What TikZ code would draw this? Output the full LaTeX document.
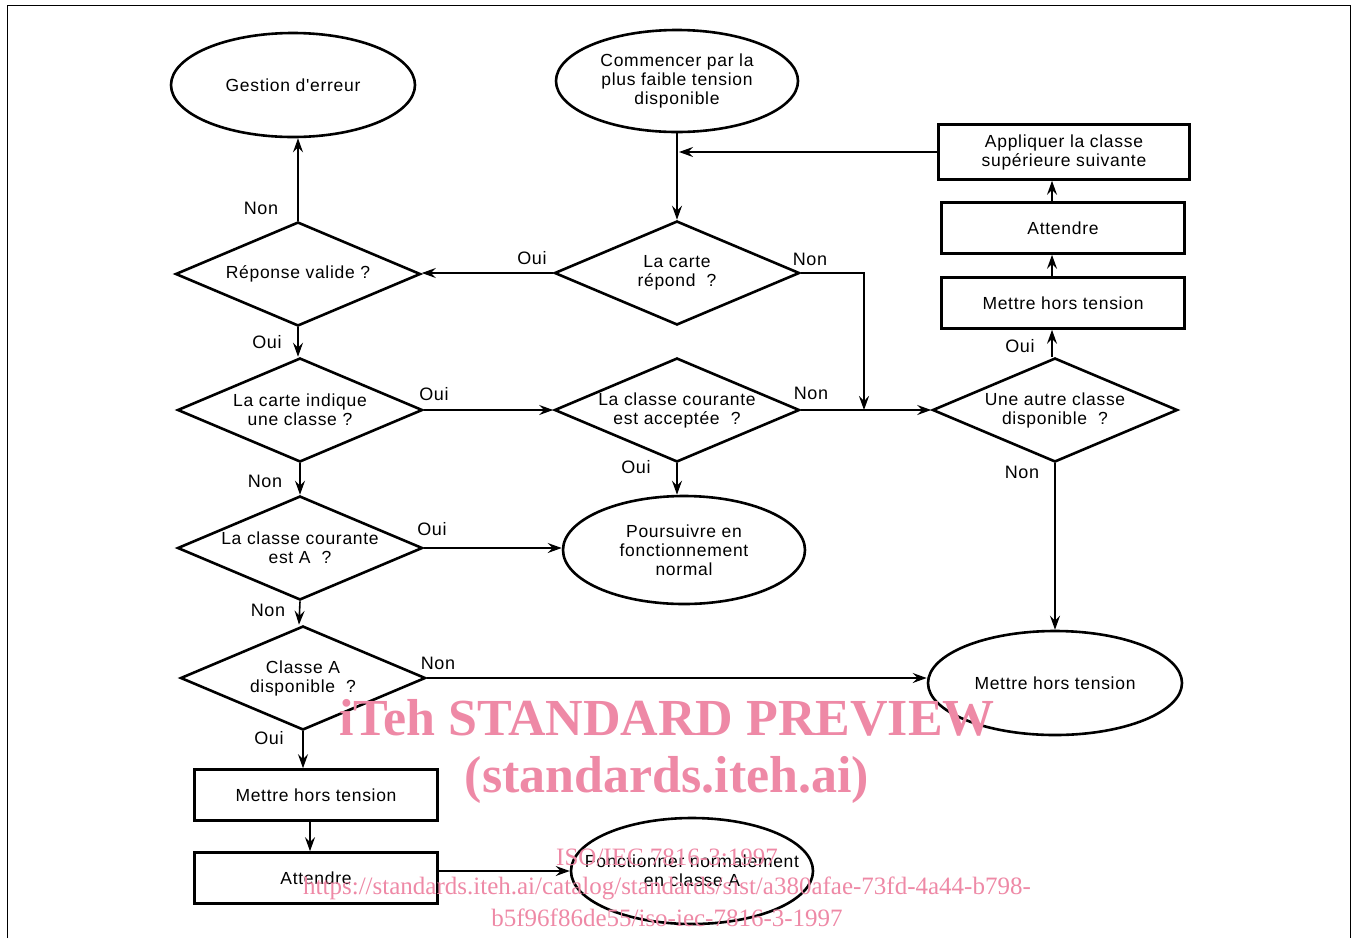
\documentclass[tikz,border=0pt]{standalone}
\usepackage{fontspec}
\newfontfamily\flowfont{Liberation Sans}[LetterSpace=4]
\newfontfamily\markfont{Liberation Serif}
\usetikzlibrary{positioning, arrows.meta, shapes.geometric}
\definecolor{itehpink}{RGB}{238,137,166}
\tikzset{
  txt/.style={font=\flowfont\fontsize{17.5}{19}\selectfont, align=center},
  term/.style={txt, ellipse, draw, line width=2.6pt, inner sep=0pt, minimum width=242, minimum height=102},
  decision/.style={txt, diamond, draw, line width=2.6pt, inner sep=0pt, aspect=2.35, minimum width=245, minimum height=104},
  process/.style={txt, rectangle, draw, line width=2.6pt, inner sep=0pt, minimum width=243, minimum height=51},
  lbl/.style={font=\flowfont\fontsize{18}{20}\selectfont, inner sep=0pt},
  flow/.style={->, line width=1.6pt},
  wmark/.style={text=itehpink, inner sep=0pt},
  >={Stealth[length=14pt,width=10pt,inset=5pt]}
}
\begin{document}
\begin{tikzpicture}[x=1pt,y=-1pt]
\useasboundingbox (0,0) rectangle (1357,938);
\draw[line width=1pt] (7,938) -- (7,5) -- (1350,5) -- (1350,938);

% ellipses
\node[term, minimum width=244, minimum height=104] (err) at (293,85) {Gestion d'erreur};
\node[term] (start) at (677,81) {Commencer par la\\plus faible tension\\disponible};
\node[term, minimum height=108] (pours) at (684,550) {Poursuivre en\\fonctionnement\\normal};
\node[term, minimum width=254, minimum height=104] (mhtE) at (1055,683) {Mettre hors tension};
\node[term, minimum height=106, inner xsep=-24pt] (fonc) at (692,871) {Fonctionner normalement\\en classe A};

% decisions
\node[decision] (valid) at (298,274) {R\'eponse valide ?};
\node[decision] (rep) at (677,273) {La carte\\r\'epond~~?};
\node[decision] (ind) at (300,410) {La carte indique\\une classe ?};
\node[decision] (acc) at (677,410) {La classe courante\\est accept\'ee~~?};
\node[decision] (autre) at (1055,410) {Une autre classe\\disponible~~?};
\node[decision] (estA) at (300,548) {La classe courante\\est A~~?};
\node[decision] (dispA) at (303,678) {Classe A\\disponible~~?};

% boxes
\node[process, minimum width=251, minimum height=55] (appl) at (1064,152) {Appliquer la classe\\sup\'erieure suivante};
\node[process] (attR) at (1063,228) {Attendre};
\node[process] (mhtR) at (1063,303) {Mettre hors tension};
\node[process] (mhtL) at (316,795) {Mettre hors tension};
\node[process] (attL) at (316,878) {Attendre};

\coordinate (jn) at (864,410);

% connectors
\draw[flow] (start) -- (rep);
\draw[flow] (appl.west) -- ([xshift=2pt]appl.west -| start.south);
\draw[flow] (rep.west) -- (rep.west -| valid.east);
\draw[flow] (rep.east) -| (jn);
\draw[flow] (valid.north) -- (valid.north |- err.south);
\draw[flow] (valid.south) -- (valid.south |- ind.north);
\draw[flow] (ind.east) -- (acc.west);
\draw[flow] (acc.east) -- (autre.west);
\draw[flow] (acc.south) -- (acc.south |- pours.north);
\draw[flow] (ind.south) -- (estA.north);
\draw[flow] (estA.east) -- (estA.east -| pours.west);
\draw[flow] (estA.south) -- ([xshift=-1pt]estA.south |- dispA.north);
\draw[flow] (dispA.east) -- (dispA.east -| mhtE.west);
\draw[flow] (dispA.south) -- (dispA.south |- mhtL.north);
\draw[flow] ([xshift=-6pt]mhtL.south) -- ([xshift=-6pt]attL.north);
\draw[flow] (attL.east |- fonc.west) -- (fonc.west);
\draw[flow] (autre.south) -- (mhtE.north);
\draw[flow] ([xshift=-3pt]autre.north) -- ([xshift=-3pt]autre.north |- mhtR.south);
\draw[flow] ([xshift=-11pt]mhtR.north) -- ([xshift=-11pt]attR.south);
\draw[flow] ([xshift=-11pt]attR.north) -- ([xshift=-11pt]attR.north |- appl.south);

% labels
\node[lbl] (n1) at (261,208) {Non};
\node[lbl] (o1) at (267,342) {Oui};
\node[lbl] (o2) at (532,258) {Oui};
\node[lbl] (n2) at (810,259) {Non};
\node[lbl] (o3) at (434,394) {Oui};
\node[lbl] (n3) at (811,393) {Non};
\node[lbl] (o4) at (636,467) {Oui};
\node[lbl] (n4) at (265,481) {Non};
\node[lbl] (o5) at (432,529) {Oui};
\node[lbl] (n5) at (268,610) {Non};
\node[lbl] (n6) at (438,663) {Non};
\node[lbl] (o6) at (269,738) {Oui};
\node[lbl] (o7) at (1020,346) {Oui};
\node[lbl] (n7) at (1022,472) {Non};

% watermark
\node[wmark, font=\markfont\bfseries\fontsize{52}{52}\selectfont] (wm1) at (667,718) {iTeh STANDARD PREVIEW};
\node[wmark, font=\markfont\bfseries\fontsize{52}{52}\selectfont] (wm2) at (667,780) {(standards.iteh.ai)};
\node[wmark, font=\markfont\fontsize{25}{25}\selectfont] (wm3) at (667,857) {ISO/IEC 7816-3:1997};
\node[wmark, font=\markfont\fontsize{25}{25}\selectfont] (wm4) at (667,888) {https://standards.iteh.ai/catalog/standards/sist/a380afae-73fd-4a44-b798-};
\node[wmark, font=\markfont\fontsize{25}{25}\selectfont] (wm5) at (667,918) {b5f96f86de55/iso-iec-7816-3-1997};
\end{tikzpicture}
\end{document}
